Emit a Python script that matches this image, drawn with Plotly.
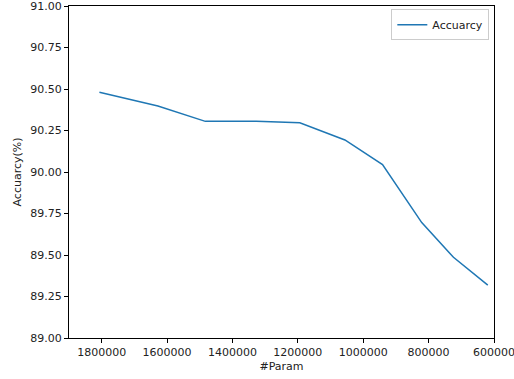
import plotly.graph_objects as go

params = [1807000, 1628000, 1483000, 1327000, 1194000, 1056000, 941000, 821000, 724000, 619000]
accuracy = [90.480, 90.398, 90.305, 90.305, 90.297, 90.193, 90.045, 89.695, 89.486, 89.319]

x_ticks = [1800000, 1600000, 1400000, 1200000, 1000000, 800000, 600000]
y_ticks = [89.00, 89.25, 89.50, 89.75, 90.00, 90.25, 90.50, 90.75, 91.00]

font = "DejaVu Sans, sans-serif"

fig = go.Figure()
fig.add_trace(go.Scatter(
    x=params, y=accuracy, mode="lines", name="Accuarcy",
    line=dict(color="#1f77b4", width=1.5),
))

axis_common = dict(
    showline=True, linecolor="black", linewidth=1, mirror=True,
    ticks="outside", ticklen=4, tickwidth=1, tickcolor="black",
    showgrid=False, zeroline=False, automargin=False,
    ticklabeloverflow="allow",
    tickfont=dict(family=font, size=11, color="#222"),
)

fig.update_layout(
    width=514, height=379,
    margin=dict(l=69, r=20, t=6, b=41),
    paper_bgcolor="white", plot_bgcolor="white",
    font=dict(family=font, size=11, color="#222"),
    showlegend=True,
    legend=dict(
        x=0.989, y=0.99, xanchor="right", yanchor="top",
        bgcolor="white", bordercolor="#cccccc", borderwidth=1,
        font=dict(family=font, size=11, color="#222"),
    ),
    xaxis=dict(
        range=[1900000, 600000],
        tickvals=x_ticks, ticktext=[str(v) for v in x_ticks],
        title=dict(text="#Param", standoff=4, font=dict(family=font, size=11, color="#222")),
        **axis_common,
    ),
    yaxis=dict(
        range=[89.0, 91.0],
        tickvals=y_ticks, ticktext=[f"{v:.2f}" for v in y_ticks],
        title=dict(text="Accuarcy(%)", standoff=6, font=dict(family=font, size=11, color="#222")),
        **axis_common,
    ),
)

fig.write_html(
    "out.html",
    config={"displayModeBar": False},
    post_script="document.body.style.margin='0';document.body.style.overflow='hidden';",
)
